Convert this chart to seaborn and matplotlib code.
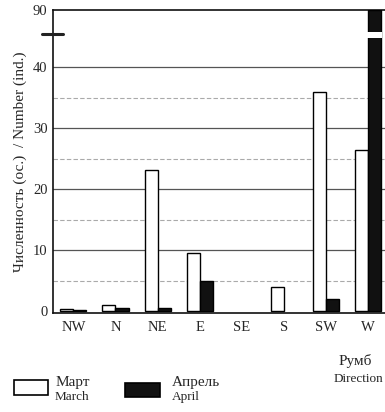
import numpy as np
import pandas as pd
import seaborn as sns
import matplotlib
matplotlib.use("Agg")
import matplotlib.pyplot as plt
from matplotlib.patches import Rectangle

# counts by direction (rhumb)
directions = ["NW", "N", "NE", "E", "SE", "S", "SW", "W"]
march = [0.3, 1.0, 23.2, 9.5, 0.0, 4.0, 36.0, 26.5]
april = [0.2, 0.6, 0.5, 5.0, 0.0, 0.0, 2.0, 90.0]
months = ["Март", "Апрель"]
yticks = [0, 10, 20, 30, 40, 90]

BREAK = 40
SQUEEZE = 0.187  # scale of the part above the break


def fwd(y):
    y = np.asarray(y, dtype=float)
    return np.where(y <= BREAK, y, BREAK + (y - BREAK) * SQUEEZE)


def inv(t):
    t = np.asarray(t, dtype=float)
    return np.where(t <= BREAK, t, BREAK + (t - BREAK) / SQUEEZE)


df = pd.DataFrame({
    "dir": directions * 2,
    "n": march + april,
    "month": [months[0]] * len(directions) + [months[1]] * len(directions),
})

sns.set_style("white")
plt.rcParams["font.family"] = ["Liberation Serif", "DejaVu Serif"]

fig = plt.figure(figsize=(3.85, 4.12), dpi=100)
ax = fig.add_axes([0.138, 0.240, 0.862, 0.735])
ax.set_yscale("function", functions=(fwd, inv))

sns.barplot(data=df, x="dir", y="n", hue="month", order=directions,
            palette=["white", "#111111"], edgecolor="black", linewidth=1.0,
            width=0.62, gap=0, legend=False, ax=ax, zorder=3)

# empty bars leave no outline
for p in ax.patches:
    if p.get_height() == 0:
        p.set_linewidth(0)

ax.set_ylim(-0.3, 90)
ax.set_xlim(-0.48, 7.4)

# grid: solid at tens, lighter dashed at fives
for v in [10, 20, 30, 40]:
    ax.axhline(v, color="#555555", lw=0.9, zorder=1)
for v in [5, 15, 25, 35]:
    ax.axhline(v, color="#aaaaaa", lw=0.8, ls=(0, (4, 2)), zorder=1)

# break in the tall bar and on the axis
tall = max(ax.patches, key=lambda p: p.get_height())
ax.add_patch(Rectangle((tall.get_x() - 0.02, 66), tall.get_width() + 0.04, 5,
                       facecolor="white", edgecolor="none", zorder=4))
ax.plot([-0.035, 0.03], [69, 69], color="#222222", lw=2.2,
        transform=ax.get_yaxis_transform(), clip_on=False, zorder=5)

ax.set_yticks(yticks)
ax.set_yticklabels([str(v) for v in yticks], fontsize=10.5)
ax.tick_params(axis="y", length=3, direction="in", pad=4)
ax.tick_params(axis="x", length=0, labelsize=10.5, pad=6)
ax.set_xlabel("")
ax.set_ylabel("Численность (ос.)  / Number (ind.)", fontsize=11, labelpad=4)

for side in ["left", "bottom", "top"]:
    ax.spines[side].set_color("#111111")
    ax.spines[side].set_linewidth(1.2)
ax.spines["right"].set_visible(False)

# axis caption at lower right
fig.text(0.965, 0.125, "Румб", fontsize=11, ha="right", va="center")
fig.text(0.995, 0.080, "Direction", fontsize=9.5, ha="right", va="center")

# hand-made legend
fig.add_artist(Rectangle((0.036, 0.041), 0.088, 0.036, transform=fig.transFigure,
                         facecolor="white", edgecolor="black", lw=1.2))
fig.add_artist(Rectangle((0.325, 0.037), 0.091, 0.034, transform=fig.transFigure,
                         facecolor="#111111", edgecolor="black", lw=1.2))
fig.text(0.143, 0.072, "Март", fontsize=11, va="center")
fig.text(0.143, 0.036, "March", fontsize=9.5, va="center")
fig.text(0.447, 0.072, "Апрель", fontsize=11, va="center")
fig.text(0.447, 0.036, "April", fontsize=9.5, va="center")

fig.savefig("out.png", dpi=100)
